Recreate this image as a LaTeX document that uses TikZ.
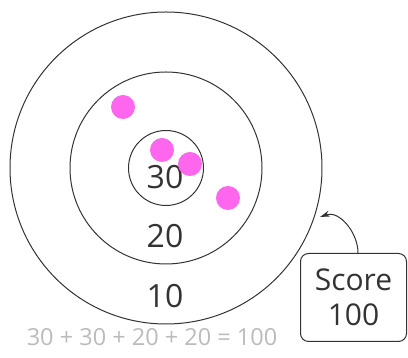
\documentclass[tikz,border=0pt]{standalone}
\usepackage{fontspec}
\setmainfont{Open Sans}
\usetikzlibrary{arrows.meta}
\definecolor{ink}{HTML}{333333}
\definecolor{hit}{HTML}{FF66EE}
\definecolor{sumgray}{HTML}{BBBBBB}
\begin{document}
\begin{tikzpicture}[x=1pt, y=1pt,
  ring/.style={draw=ink, line width=1pt, circle, inner sep=0pt},
  hitdot/.style={circle, fill=hit, inner sep=0pt, minimum size=24pt},
  ringlabel/.style={text=ink, font=\fontsize{32}{34}\selectfont, inner sep=0pt},
  scorebox/.style={draw=ink, line width=1pt, rounded corners=8pt, align=center,
    minimum width=106pt, minimum height=88pt, text=ink, font=\fontsize{30}{35}\selectfont}]
\useasboundingbox (0,0) rectangle (408,358);
\node[ring, minimum size=312pt] (outer) at (166,190) {};
\node[ring, minimum size=192pt] (middle) at (166,190) {};
\node[ring, minimum size=75pt] (inner) at (166,190) {};
\node[ringlabel] (l30) at (165,181) {30};
\node[ringlabel] (l20) at (165,122) {20};
\node[ringlabel] (l10) at (165,62) {10};
\node[hitdot] (h1) at (123,251) {};
\node[hitdot] (h2) at (162,208) {};
\node[hitdot] (h3) at (190,194) {};
\node[hitdot] (h4) at (228,160) {};
\node[scorebox] (score) at (353.5,60.5) {Score\\100};
\coordinate (tip) at (320,141);
\draw[-{Stealth[length=10pt, width=6pt]}, ink, line width=1pt] (score.north) ++(4.5,0) to[out=90, in=20] (tip);
\node[text=sumgray, font=\fontsize{23.5}{26}\selectfont] (sum) at (152,21) {30 + 30 + 20 + 20 = 100};
\end{tikzpicture}
\end{document}
